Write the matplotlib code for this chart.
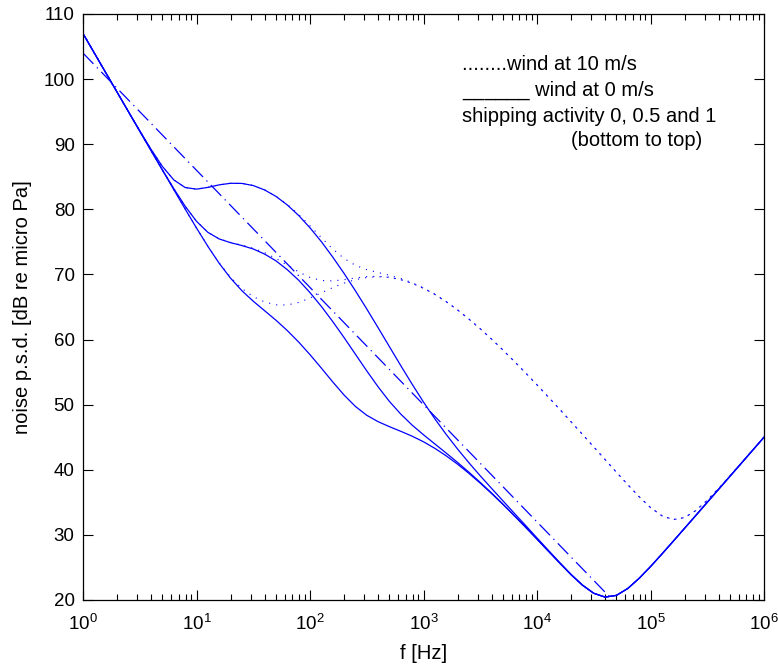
import matplotlib
matplotlib.use('Agg')
import matplotlib.pyplot as plt
from matplotlib.ticker import LogLocator, NullFormatter

plt.rcParams['font.family'] = ['Liberation Sans', 'DejaVu Sans']
plt.rcParams['mathtext.fontset'] = 'custom'
plt.rcParams['mathtext.rm'] = 'Liberation Sans'
plt.rcParams['mathtext.it'] = 'Liberation Sans'

# log10 of frequency in Hz
log_f = [0.0, 0.1, 0.2, 0.3, 0.4, 0.5, 0.6, 0.7, 0.8, 0.9,
         1.0, 1.1, 1.2, 1.3, 1.4, 1.5, 1.6, 1.7, 1.8, 1.9,
         2.0, 2.1, 2.2, 2.3, 2.4, 2.5, 2.6, 2.7, 2.8, 2.9,
         3.0, 3.1, 3.2, 3.3, 3.4, 3.5, 3.6, 3.7, 3.8, 3.9,
         4.0, 4.1, 4.2, 4.3, 4.4, 4.5, 4.6, 4.7, 4.8, 4.9,
         5.0, 5.1, 5.2, 5.3, 5.4, 5.5, 5.6, 5.7, 5.8, 5.9, 6.0]
freq = [10 ** v for v in log_f]

# wind 0 m/s, shipping 0 / 0.5 / 1
w0_s0 = [107.00, 104.00, 101.00, 98.00, 95.00, 92.00, 89.00, 86.01, 83.02, 80.05,
         77.13, 74.32, 71.71, 69.43, 67.50, 65.89, 64.43, 62.97, 61.38, 59.62,
         57.68, 55.62, 53.50, 51.48, 49.73, 48.37, 47.39, 46.62, 45.91, 45.16,
         44.30, 43.29, 42.14, 40.86, 39.45, 37.94, 36.35, 34.68, 32.94, 31.16,
         29.34, 27.50, 25.67, 23.88, 22.27, 21.03, 20.44, 20.71, 21.77, 23.33,
         25.13, 27.05, 29.02, 31.01, 33.00, 35.00, 37.00, 39.00, 41.00, 43.00, 45.00]
w0_s05 = [107.00, 104.00, 101.00, 98.00, 95.00, 92.01, 89.02, 86.06, 83.18, 80.48,
          78.16, 76.47, 75.45, 74.88, 74.44, 73.91, 73.13, 72.09, 70.73, 69.11,
          67.21, 65.09, 62.77, 60.31, 57.75, 55.19, 52.74, 50.49, 48.55, 46.86,
          45.37, 43.97, 42.56, 41.13, 39.63, 38.06, 36.43, 34.73, 32.97, 31.19,
          29.35, 27.51, 25.67, 23.89, 22.27, 21.03, 20.44, 20.71, 21.77, 23.33,
          25.13, 27.05, 29.02, 31.01, 33.00, 35.00, 37.00, 39.00, 41.00, 43.00, 45.00]
w0_s1 = [107.00, 104.00, 101.00, 98.01, 95.02, 92.07, 89.20, 86.58, 84.52, 83.35,
         83.10, 83.37, 83.76, 84.00, 83.98, 83.65, 82.98, 81.99, 80.67, 79.06,
         77.16, 75.04, 72.68, 70.16, 67.49, 64.70, 61.82, 58.90, 55.99, 53.14,
         50.40, 47.82, 45.43, 43.19, 41.08, 39.07, 37.14, 35.23, 33.32, 31.44,
         29.53, 27.64, 25.76, 23.95, 22.32, 21.04, 20.45, 20.71, 21.77, 23.33,
         25.13, 27.05, 29.02, 31.01, 33.00, 35.00, 37.00, 39.00, 41.00, 43.00, 45.00]

# wind 10 m/s, shipping 0 / 0.5 / 1
w10_s0 = [107.00, 104.00, 101.00, 98.00, 95.00, 92.00, 89.00, 86.01, 83.02, 80.05,
          77.14, 74.34, 71.77, 69.58, 67.84, 66.60, 65.77, 65.33, 65.31, 65.70,
          66.37, 67.18, 67.98, 68.67, 69.20, 69.53, 69.65, 69.54, 69.19, 68.63,
          67.87, 66.93, 65.81, 64.55, 63.15, 61.65, 60.06, 58.39, 56.65, 54.87,
          53.04, 51.18, 49.29, 47.37, 45.45, 43.51, 41.57, 39.62, 37.71, 35.86,
          34.20, 32.94, 32.35, 32.66, 33.74, 35.32, 37.13, 39.05, 41.02, 43.01, 45.00]
w10_s05 = [107.00, 104.00, 101.00, 98.00, 95.00, 92.01, 89.02, 86.06, 83.18, 80.48,
           78.17, 76.48, 75.47, 74.92, 74.51, 74.03, 73.34, 72.46, 71.43, 70.39,
           69.54, 69.07, 69.00, 69.19, 69.46, 69.66, 69.71, 69.57, 69.21, 68.64,
           67.88, 66.93, 65.81, 64.55, 63.15, 61.65, 60.06, 58.39, 56.65, 54.87,
           53.04, 51.18, 49.29, 47.37, 45.45, 43.51, 41.57, 39.62, 37.71, 35.86,
           34.20, 32.94, 32.35, 32.66, 33.74, 35.32, 37.13, 39.05, 41.02, 43.01, 45.00]
w10_s1 = [107.00, 104.00, 101.00, 98.01, 95.02, 92.07, 89.20, 86.58, 84.52, 83.35,
          83.10, 83.37, 83.76, 84.00, 83.99, 83.66, 83.00, 82.03, 80.75, 79.21,
          77.47, 75.65, 73.91, 72.46, 71.40, 70.74, 70.29, 69.87, 69.38, 68.73,
          67.93, 66.97, 65.83, 64.56, 63.16, 61.66, 60.06, 58.39, 56.65, 54.87,
          53.04, 51.18, 49.29, 47.37, 45.45, 43.51, 41.57, 39.62, 37.71, 35.86,
          34.20, 32.94, 32.35, 32.66, 33.74, 35.32, 37.13, 39.05, 41.02, 43.01, 45.00]

# straight-line approximation
approx_f = [1, 1e6]
approx_db = [104, -4]

legend_lines = ['........wind at 10 m/s',
                '______ wind at 0 m/s',
                'shipping activity 0, 0.5 and 1',
                '(bottom to top)']

fig = plt.figure(figsize=(7.78, 6.68), dpi=100)
ax = fig.add_axes([83 / 778, 1 - 600 / 668, 681 / 778, 586 / 668])

for y in [w10_s0, w10_s05, w10_s1]:
    ax.plot(freq, y, color='blue', lw=0.8, linestyle=(0, (1, 5.5)))
for y in [w0_s0, w0_s05, w0_s1]:
    ax.plot(freq, y, color='blue', lw=0.9)
ax.plot(approx_f, approx_db, color='blue', lw=0.9, linestyle=(0, (12, 4, 1, 4)))

ax.set_xscale('log')
ax.set_xlim(1, 1e6)
ax.set_ylim(20, 110)
ax.set_yticks(range(20, 111, 10))
ax.xaxis.set_major_locator(LogLocator(base=10, numticks=10))
ax.xaxis.set_minor_locator(LogLocator(base=10, subs=range(2, 10), numticks=100))
ax.xaxis.set_minor_formatter(NullFormatter())
ax.tick_params(which='both', direction='in', top=True, right=True,
               labelsize=13.5, colors='black', width=0.8)
ax.tick_params(which='major', length=7)
ax.tick_params(which='minor', length=4.5)
ax.tick_params(axis='x', which='major', pad=10)
ax.tick_params(axis='y', which='major', pad=6)
for sp in ax.spines.values():
    sp.set_linewidth(0.9)

ax.set_xlabel('f [Hz]', fontsize=14.5, labelpad=7)
ax.set_ylabel('noise p.s.d. [dB re micro Pa]', fontsize=14.5, labelpad=8)

ys = [65, 90, 116, 141]
xs = [462, 462, 462, 571]
for txt, x, y in zip(legend_lines, xs, ys):
    fig.text(x / 778, 1 - y / 668, txt, fontsize=14.5, va='center', ha='left')

fig.savefig('out.png', dpi=100)
